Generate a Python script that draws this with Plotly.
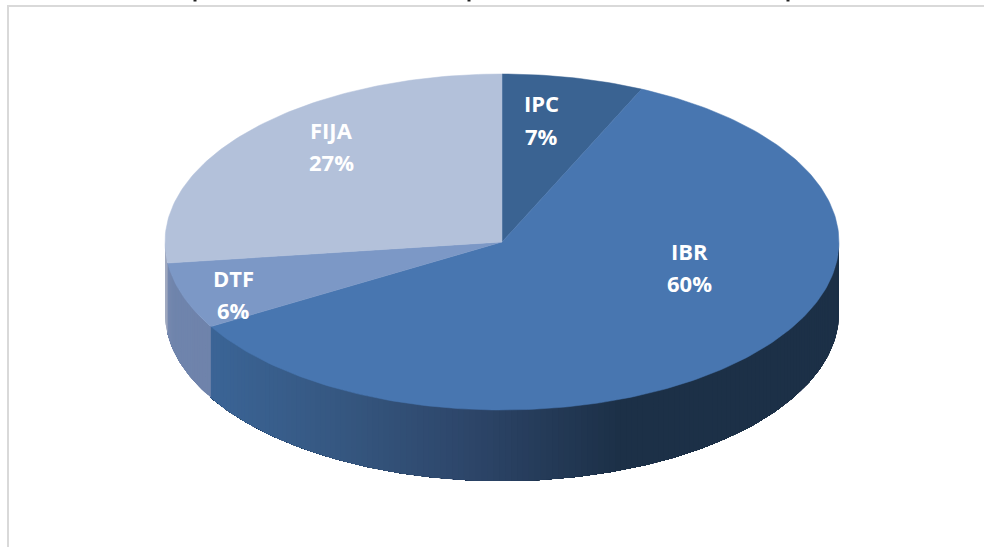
import math
import plotly.graph_objects as go

categories = ["IPC", "IBR", "DTF", "FIJA"]
shares = [6.8, 59.8, 6.4, 27.0]
percent_labels = ["7%", "60%", "6%", "27%"]

top_colors = ["#3a6392", "#4876b0", "#7c98c6", "#b3c1da"]

# picture geometry, in pixels
CX, CY, RX, RY, DEPTH = 502, 242, 337, 168, 71
W, H = 984, 547
label_pos = {"IPC": (541, 103, 136), "IBR": (689, 251, 283),
             "DTF": (233, 278, 310), "FIJA": (331, 130, 162)}


def pt(deg, dy=0):
    a = math.radians(deg)
    return CX + RX * math.sin(a), CY - RY * math.cos(a) + dy


def hex2rgb(h):
    return tuple(int(h[i:i + 2], 16) for i in (1, 3, 5))


def mix(stops, x):
    for (x0, c0), (x1, c1) in zip(stops, stops[1:]):
        if x <= x1:
            t = max(0, (x - x0) / (x1 - x0))
            a, b = hex2rgb(c0), hex2rgb(c1)
            return "rgb(%d,%d,%d)" % tuple(round(a[i] + (b[i] - a[i]) * t) for i in range(3))
    return stops[-1][1]


side_stops = {
    "IPC": [(0, "#1c3047"), (W, "#1c3047")],
    "IBR": [(205, "#3b6597"), (350, "#35567f"), (480, "#2c4467"), (620, "#1c3047"), (W, "#1c3047")],
    "DTF": [(165, "#7a8bb1"), (174, "#6f84ac"), (212, "#6f83ab")],
    "FIJA": [(160, "#a9b1c6"), (170, "#9aa4bb")],
}

fig = go.Figure()

# wedge angle limits from the shares
edges = [0]
for s in shares:
    edges.append(edges[-1] + s * 3.6)

# side wall (front half only: 90 to 270 degrees); each band runs to the wedge end
# and the next band paints over it, so no seams show between bands
for name, a0, a1 in zip(categories, edges, edges[1:]):
    lo, hi = max(a0, 90), min(a1, 270)
    if hi <= lo:
        continue
    n = max(1, int((hi - lo) / 1.0))
    angles = [lo + (hi - lo) * i / n for i in range(n + 1)]
    for i in range(n):
        arc = angles[i:]
        top = [pt(d) for d in arc]
        bot = [pt(d, DEPTH) for d in reversed(arc)]
        poly = top + bot + [top[0]]
        xm = (pt(angles[i])[0] + pt(angles[i + 1])[0]) / 2
        col = mix(side_stops[name], xm)
        fig.add_trace(go.Scatter(
            x=[q[0] for q in poly], y=[q[1] for q in poly],
            mode="lines", fill="toself", fillcolor=col,
            line=dict(color=col, width=0), hoverinfo="skip", showlegend=False))

# top face
for name, a0, a1, col in zip(categories, edges, edges[1:], top_colors):
    n = max(2, int(a1 - a0))
    arc = [pt(a0 + (a1 - a0) * i / n) for i in range(n + 1)]
    xs = [CX] + [q[0] for q in arc] + [CX]
    ys = [CY] + [q[1] for q in arc] + [CY]
    fig.add_trace(go.Scatter(x=xs, y=ys, mode="lines", fill="toself", fillcolor=col,
                             line=dict(color=col, width=0.5), name=name,
                             hoverinfo="skip", showlegend=False))

font = dict(family="Open Sans", size=22, color="white")
ann = []
for name, pct in zip(categories, percent_labels):
    x, y1, y2 = label_pos[name]
    for txt, y in ((name, y1), (pct, y2)):
        ann.append(dict(x=x, y=y, xref="x", yref="y", text="<b>%s</b>" % txt,
                        showarrow=False, font=font, xanchor="center", yanchor="middle"))

shapes = [
    dict(type="rect", x0=7, x1=9, y0=5, y1=H, fillcolor="#d9d9d9", line_width=0, layer="below"),
    dict(type="rect", x0=7, x1=W, y0=5, y1=7, fillcolor="#d9d9d9", line_width=0, layer="below"),
]
for sx in (195, 469, 788):
    shapes.append(dict(type="rect", x0=sx - 1.5, x1=sx + 1.5, y0=0, y1=1.5,
                       fillcolor="#222222", line_width=0, layer="below"))

fig.update_layout(
    width=W, height=H, margin=dict(l=0, r=0, t=0, b=0),
    paper_bgcolor="white", plot_bgcolor="white", showlegend=False,
    xaxis=dict(range=[0, W], visible=False, fixedrange=True),
    yaxis=dict(range=[H, 0], visible=False, fixedrange=True),
    annotations=ann, shapes=shapes,
)
fig.write_html("out.html", config=dict(displayModeBar=False),
               post_script="document.body.style.margin='0';document.body.style.overflow='hidden';")
